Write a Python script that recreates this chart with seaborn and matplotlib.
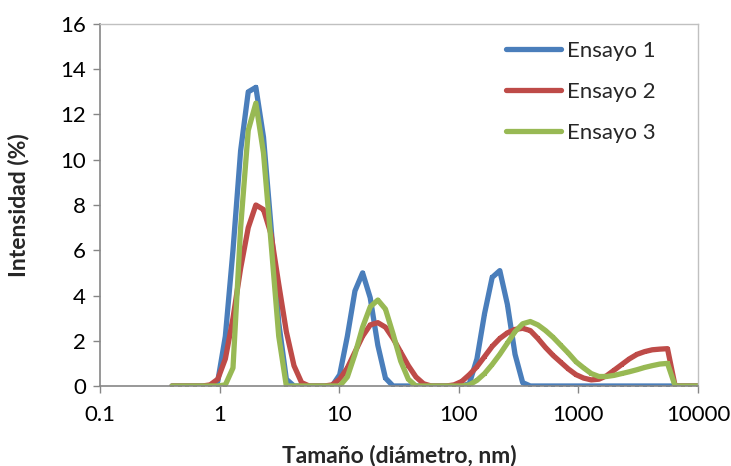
import numpy as np
import pandas as pd
import matplotlib
matplotlib.use("Agg")
import matplotlib.pyplot as plt
import seaborn as sns

sizes_nm = [0.4, 0.4632, 0.5365, 0.6213, 0.7195, 0.8332, 0.9649, 1.117, 1.294, 1.499,
            1.736, 2.010, 2.328, 2.696, 3.122, 3.615, 4.187, 4.849, 5.615, 6.503,
            7.531, 8.721, 10.10, 11.70, 13.54, 15.69, 18.17, 21.04, 24.36, 28.21,
            32.67, 37.84, 43.82, 50.75, 58.77, 68.06, 78.82, 91.28, 105.7, 122.4,
            141.8, 164.2, 190.1, 220.2, 255.0, 295.3, 342.0, 396.1, 458.7, 531.2,
            615.1, 712.4, 825.0, 955.4, 1106, 1281, 1484, 1718, 1990, 2305,
            2669, 3091, 3580, 4145, 4801, 5560, 6439, 7456, 8635, 10000]

ensayo1 = [0, 0, 0, 0, 0, 0, 0.2, 2.2, 6.0, 10.4,
           13.0, 13.2, 11.0, 7.0, 2.8, 0.3, 0, 0, 0, 0,
           0, 0, 0.5, 2.2, 4.2, 5.0, 3.9, 1.8, 0.35, 0,
           0, 0, 0, 0, 0, 0, 0, 0, 0, 0.1,
           1.2, 3.2, 4.8, 5.1, 3.6, 1.4, 0.15, 0, 0, 0,
           0, 0, 0, 0, 0, 0, 0, 0, 0, 0,
           0, 0, 0, 0, 0, 0, 0, 0, 0, 0]

ensayo2 = [0, 0, 0, 0, 0, 0.05, 0.3, 1.2, 3.0, 5.2,
           7.0, 8.0, 7.8, 6.7, 4.5, 2.4, 0.9, 0.15, 0, 0,
           0, 0.05, 0.3, 0.8, 1.5, 2.2, 2.7, 2.8, 2.6, 2.1,
           1.5, 0.9, 0.4, 0.1, 0, 0, 0, 0.05, 0.2, 0.5,
           0.85, 1.3, 1.75, 2.1, 2.35, 2.5, 2.55, 2.45, 2.1, 1.7,
           1.35, 1.05, 0.75, 0.5, 0.35, 0.27, 0.3, 0.45, 0.7, 0.95,
           1.2, 1.4, 1.52, 1.6, 1.63, 1.65, 0, 0, 0, 0]

ensayo3 = [0, 0, 0, 0, 0, 0, 0, 0.05, 0.8, 7.0,
           11.3, 12.5, 10.3, 6.3, 2.2, 0, 0, 0, 0, 0,
           0, 0, 0, 0.4, 1.4, 2.6, 3.5, 3.8, 3.4, 2.3,
           1.1, 0.3, 0, 0, 0, 0, 0, 0, 0, 0.05,
           0.25, 0.55, 0.95, 1.4, 1.9, 2.4, 2.75, 2.85, 2.7, 2.45,
           2.15, 1.8, 1.45, 1.07, 0.8, 0.55, 0.42, 0.42, 0.47, 0.55,
           0.63, 0.72, 0.82, 0.9, 0.97, 1.0, 0, 0, 0, 0]

series_names = ["Ensayo 1", "Ensayo 2", "Ensayo 3"]
colors = ["#4A7EBB", "#BE4B48", "#98B954"]
x_ticks = [0.1, 1, 10, 100, 1000, 10000]
x_ticklabels = ["0.1", "1", "10", "100", "1000", "10000"]
y_ticks = [0, 2, 4, 6, 8, 10, 12, 14, 16]

df = pd.DataFrame({
    "size": sizes_nm * 3,
    "intensity": ensayo1 + ensayo2 + ensayo3,
    "series": sum([[n] * len(sizes_nm) for n in series_names], []),
})

sns.set_theme(style="white")
plt.rcParams["font.family"] = ["Lato", "DejaVu Sans"]

fig = plt.figure(figsize=(7.31, 4.66), dpi=100)
ax = fig.add_axes([100 / 731, 80 / 466, 598 / 731, 362 / 466])

sns.lineplot(data=df, x="size", y="intensity", hue="series", style="series",
             markers=["s", "s", "s"], dashes=False, palette=colors,
             linewidth=3.8, markersize=3, markeredgewidth=0, ax=ax, sort=False,
             solid_joinstyle="round", solid_capstyle="round")

ax.set_xscale("log")
ax.set_xlim(0.1, 10000)
ax.set_ylim(0, 16)
ax.set_xticks(x_ticks)
ax.set_xticklabels(x_ticklabels)
ax.minorticks_off()
ax.set_yticks(y_ticks)
ax.tick_params(axis="both", which="major", labelsize=16, colors="#868686",
               labelcolor="black", length=5, width=1, direction="out",
               bottom=True, left=True)
ax.tick_params(axis="x", pad=9)
ax.tick_params(axis="y", pad=5)

ax.set_xlabel("Tamaño (diámetro, nm)", fontsize=16.5, fontweight="bold", labelpad=14)
ax.set_ylabel("Intensidad (%)", fontsize=16.5, fontweight="bold", labelpad=22)

for side in ["left", "bottom"]:
    ax.spines[side].set_color("#868686")
    ax.spines[side].set_linewidth(1.2)
for side in ["top", "right"]:
    ax.spines[side].set_color("#C0C0C0")
    ax.spines[side].set_linewidth(1.0)

leg = ax.legend(loc="upper left", bbox_to_anchor=(0.66, 0.985), frameon=False,
                fontsize=16, handlelength=2.5, handletextpad=0.25,
                labelspacing=0.95, borderpad=0)
for line in leg.get_lines():
    line.set_linewidth(3.8)
    line.set_solid_capstyle("round")

fig.savefig("out.png", dpi=100)
